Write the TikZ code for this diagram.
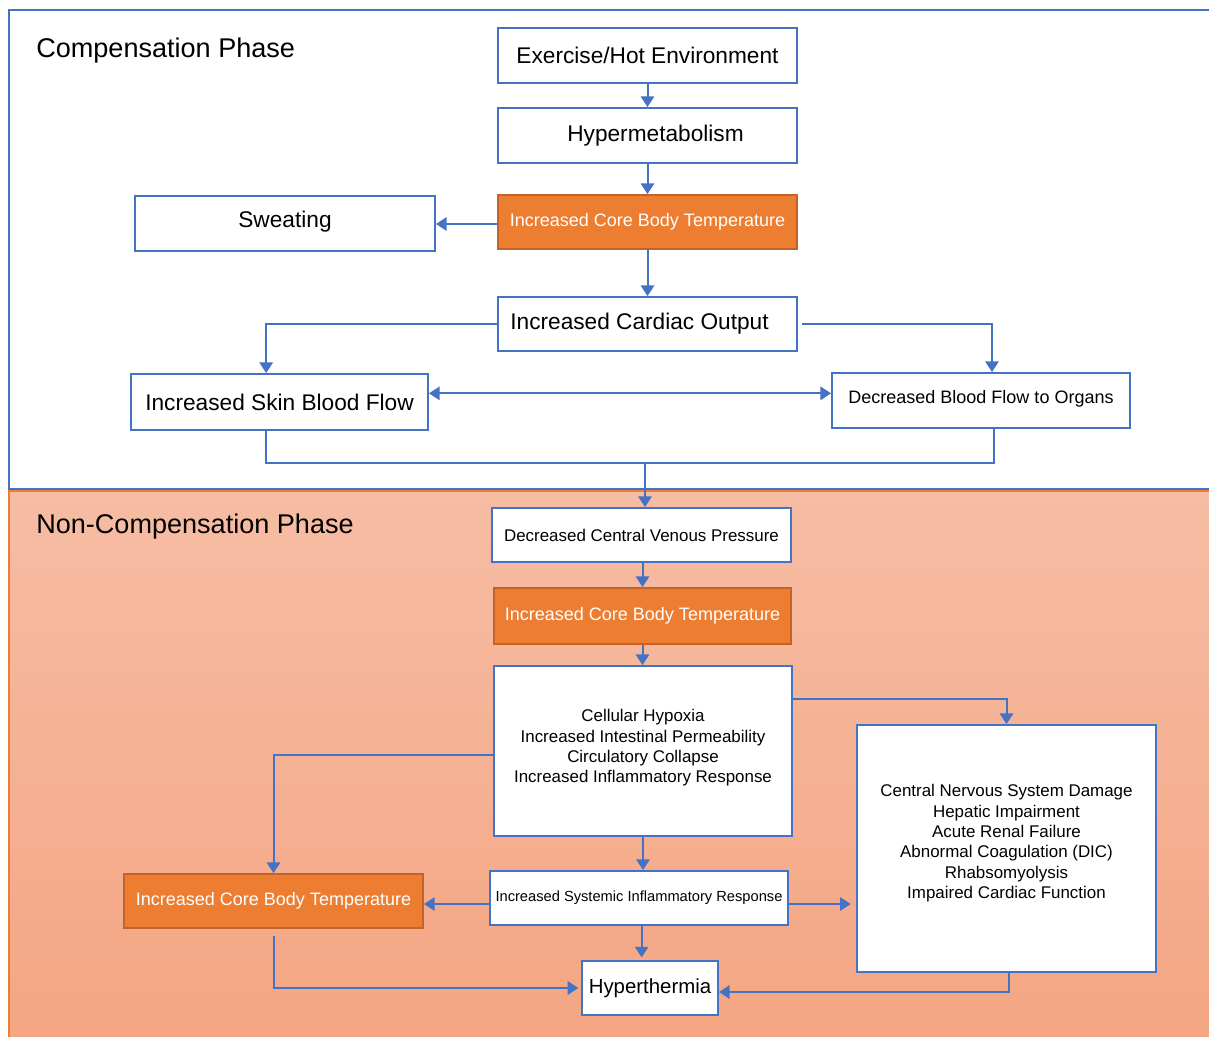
\documentclass[tikz,border=0pt]{standalone}
\usepackage{fontspec}
\setmainfont{Liberation Sans}
\usetikzlibrary{arrows.meta}
\definecolor{lblue}{HTML}{4472C4}
\definecolor{orfill}{HTML}{ED7D31}
\definecolor{ordraw}{HTML}{C5622A}
\definecolor{saltop}{HTML}{F6BDA4}
\definecolor{salbot}{HTML}{F4A582}
\begin{document}
\begin{tikzpicture}[x=0.75pt,y=-0.75pt,
  bx/.style 2 args={draw=lblue, line width=1.4pt, fill=white, inner sep=0pt, align=center, text=black, minimum width=#1*0.75pt, minimum height=#2*0.75pt},
  obx/.style 2 args={bx={#1}{#2}, fill=orfill, draw=ordraw, text=white},
  ftitle/.style={font=\fontsize{20.3}{24}\selectfont},
  fbig/.style={font=\fontsize{17}{20}\selectfont},
  fmid/.style={font=\fontsize{13.5}{16}\selectfont},
  fsmall/.style={font=\fontsize{12.7}{15.3}\selectfont},
  fsir/.style={font=\fontsize{11}{13}\selectfont},
  fhy/.style={font=\fontsize{15.3}{18}\selectfont},
  ln/.style={draw=lblue, line width=1.5pt},
  arr/.style={ln, -{Triangle[width=10pt,length=8pt]}},
  darr/.style={ln, {Triangle[width=10pt,length=8pt]}-{Triangle[width=10pt,length=8pt]}}
]
\useasboundingbox (0,0) rectangle (1209,1036);
\clip (0,0) rectangle (1209,1036);
% panels
\fill[top color=saltop, bottom color=salbot] (9,490) rectangle (1230,1050);
\draw[orfill, line width=1.5pt] (9,1050) -- (9,491) -- (1230,491);
\draw[lblue, line width=1.5pt, fill=white] (9,10) rectangle (1230,489);
\node[ftitle, anchor=west, inner sep=0pt] (tcomp) at (36,50) {Compensation Phase};
\node[ftitle, anchor=west, inner sep=0pt] (tnon) at (36,526) {Non-Compensation Phase};
% nodes
\node[bx={299}{55}, fbig] (ex) at (647.5,55.5) {Exercise/Hot Environment};
\node[bx={299}{55}, fbig] (hyp) at (647.5,135.5) {\hspace*{12pt}Hypermetabolism};
\node[obx={299}{54}, fmid] (t1) at (647.5,222) {Increased Core Body Temperature};
\node[bx={300}{55}, fbig] (sw) at (285,223.5) {Sweating\\[-14pt]};
\node[bx={299}{54}, fbig] (co) at (647.5,324) {Increased Cardiac Output\hspace*{12pt}};
\node[bx={297}{56}, fbig] (skin) at (279.5,402) {Increased Skin Blood Flow};
\node[bx={298}{55}, fmid] (org) at (981,400.5) {Decreased Blood Flow to Organs\\[-11pt]};
\node[bx={299}{54}, fsmall] (cvp) at (641.5,535) {Decreased Central Venous Pressure};
\node[obx={297}{56}, fmid] (t2) at (642.5,616) {Increased Core Body Temperature};
\node[bx={298}{170}, fsmall] (cell) at (643,751) {Cellular Hypoxia\\Increased Intestinal Permeability\\Circulatory Collapse\\Increased Inflammatory Response\\[-8pt]};
\node[bx={299}{247}, fsmall] (cns) at (1006.5,848.5) {Central Nervous System Damage\\Hepatic Impairment\\Acute Renal Failure\\Abnormal Coagulation (DIC)\\Rhabsomyolysis\\Impaired Cardiac Function\\[-5pt]};
\node[bx={298}{54}, fsir] (sir) at (639,898) {Increased Systemic Inflammatory Response};
\node[obx={299}{54}, fmid] (t3) at (273.5,901) {Increased Core Body Temperature};
\node[bx={136}{54}, fhy] (hy) at (650,988) {Hyperthermia};
\coordinate (j) at (645,463);
% connectors
\draw[arr] (ex) -- (hyp);
\draw[arr] (hyp) -- (t1);
\draw[arr] ([yshift=-1.5pt]t1.west) -- ([yshift=-1.5pt]t1.west -| sw.east);
\draw[arr] (t1) -- (co);
\draw[arr] (co.west) -| ([xshift=-10pt]skin.north);
\draw[arr] ([xshift=3pt]co.east) -| ([xshift=8.25pt]org.north);
\draw[darr] ([yshift=6.5pt]skin.east) -- ([yshift=6.5pt]skin.east -| org.west);
\draw[ln] ([xshift=-10pt]skin.south) |- (j) -| ([xshift=9.75pt]org.south);
\draw[arr] (j) -- (j |- cvp.north);
\draw[arr] (t2.north |- cvp.south) -- (t2.north);
\draw[arr] (t2.south) -- (t2.south |- cell.north);
\draw[arr] ([yshift=39pt]cell.east) -| (cns.north);
\draw[arr] ([yshift=-3pt]cell.west) -| (t3.north);
\draw[arr] (cell.south) -- (cell.south |- sir.north);
\draw[arr] ([yshift=-4.5pt]sir.west) -- ([yshift=-4.5pt]sir.west -| t3.east);
\draw[arr, shorten >=4pt] ([yshift=-4.5pt]sir.east) -- ([yshift=-4.5pt]sir.east -| cns.west);
\draw[arr, shorten >=2pt] ([xshift=2pt]sir.south) -- ([xshift=2pt]sir.south |- hy.north);
\draw[arr, shorten <=5pt, shorten >=2pt] (t3.south) |- (hy.west);
\draw[arr] ([xshift=2pt]cns.south) |- ([yshift=-3pt]hy.east);
\end{tikzpicture}
\end{document}
